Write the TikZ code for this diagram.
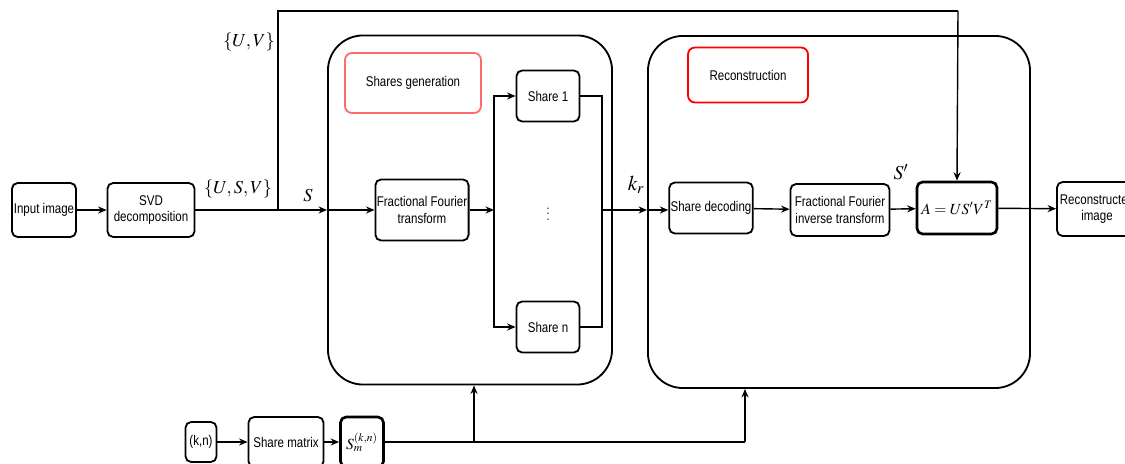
\documentclass[tikz,border=0pt]{standalone}
\usepackage{mathptmx}
\usepackage[no-math]{fontspec}
\setmainfont{Liberation Sans}[FakeStretch=0.82]
\usepackage{tikz}
\usepackage{xcolor}
\usetikzlibrary{shapes, positioning, arrows.meta}

\definecolor{lightred}{HTML}{FF6B6B}

\tikzset{
  block/.style={draw, line width=1.3pt, rounded corners=4pt, align=center,
    inner sep=1pt, font=\fontsize{10}{11.5}\selectfont},
  boldblock/.style={block, line width=1.9pt},
  container/.style={draw, line width=1.3pt, rounded corners=0.875cm},
  title/.style={draw, line width=1.3pt, rounded corners=5pt,
    font=\fontsize{10}{11.5}\selectfont},
  mathlabel/.style={font=\fontsize{13}{15}\selectfont, inner sep=0pt},
  flow/.style={line width=1pt}
}

\begin{document}
\begin{tikzpicture}[x=0.025cm, y=-0.025cm, >={Stealth[length=6pt, width=5pt]}]

        \useasboundingbox (0,0) rectangle (1125,464);
        \clip (0,0) rectangle (1125,464);

        % Draw the two big blocks
        \node[container, minimum width=7.1cm, minimum height=8.725cm] (SharesBlock) at (470,210) {};
        \node[container, minimum width=9.55cm, minimum height=8.8cm] (ReconBlock) at (839,212) {};

        \node[title, draw=lightred, minimum width=3.4cm, minimum height=1.5cm] (SharesTitle) at (413,83) {Shares generation};
        \node[title, draw=red, minimum width=3cm, minimum height=1.375cm] (ReconTitle) at (748,75) {Reconstruction};

        % Decomposition
        \node[block, minimum width=1.6cm, minimum height=1.35cm] (InputImage) at (44,210) {Input image};
        \node[block, minimum width=2.175cm, minimum height=1.35cm] (SVD) at (151,210) {SVD\\decomposition};

        % Shares generation
        \node[block, minimum width=2.3cm, minimum height=1.525cm] (FFT) at (422,210) {Fractional Fourier\\transform};
        \node[block, minimum width=1.575cm, minimum height=1.275cm] (ShareOne) at (548,96) {Share 1};
        \node[block, minimum width=1.575cm, minimum height=1.275cm] (ShareN) at (548,327) {Share n};
        \node[font=\small] (Dots) at (548,210) {$\vdots$};

        % Reconstruction
        \node[block, minimum width=2.05cm, minimum height=1.275cm] (ShareDecoding) at (711,208) {Share decoding};
        \node[block, minimum width=2.475cm, minimum height=1.3cm] (FFInverse) at (840,210) {Fractional Fourier\\inverse transform};
        \node[boldblock, minimum width=2cm, minimum height=1.3cm, font=\fontsize{11}{13}\selectfont] (Formula) at (957,208) {$A = US'V^{T}$};
        \node[block, minimum width=2cm, minimum height=1.35cm] (ReconImage) at (1097,209) {Reconstructed\\image};

        % Share matrix
        \node[block, minimum width=0.775cm, minimum height=1cm] (KN) at (201,442) {(k,n)};
        \node[block, minimum width=1.875cm, minimum height=1.25cm] (ShareMatrix) at (286,442) {Share matrix};
        \node[boldblock, minimum width=1.075cm, minimum height=1.25cm, font=\fontsize{11}{13}\selectfont] (Sm) at (362,442) {$S_m^{(k,n)}$};

        \coordinate (Junction) at (278,210);
        \coordinate (TopRight) at (958,11);
        \coordinate (Split) at (494,210);
        \coordinate (Merge) at (602,210);
        \coordinate (Branch) at (474,442);
        \coordinate (BottomRight) at (745,442);

        \draw[->,flow] (InputImage) -- (SVD);
        \draw[flow] (SVD) -- (Junction);
        \draw[->,flow] (Junction) -- (SharesBlock.west);
        \draw[->,flow] (SharesBlock.west) -- (FFT);
        \draw[flow] (Junction) |- (TopRight);
        \draw[->,flow] (TopRight) -- (Formula.north);

        \node[mathlabel] (USV) at (238,189) {$\{U,S,V\}$};
        \node[mathlabel] (UV) at (249,42) {$\{U,V\}$};
        \node[mathlabel] (SLabel) at (308,196) {$S$};

        \draw[->,flow] (FFT) -- (Split);
        \draw[->,flow] (Split) |- (ShareOne);
        \draw[->,flow] (Split) |- (ShareN);
        \draw[flow] (ShareOne) -| (Merge);
        \draw[flow] (ShareN) -| (Merge);
        \draw[->,flow] (Merge) -- (ReconBlock.west |- Merge);
        \draw[->,flow] (ReconBlock.west |- Merge) -- (ShareDecoding.west |- Merge);

        \node[mathlabel, font=\fontsize{15}{17}\selectfont] (KR) at (636,185) {$k_r$};

        \draw[->,flow] (ShareDecoding) -- (FFInverse);
        \draw[->,flow] (FFInverse) -- (Formula);
        \draw[->,flow] (Formula) -- (ReconImage);

        \node[mathlabel, font=\fontsize{14}{16}\selectfont] (SPrime) at (901,172) {$S'$};

        \draw[->,flow] (KN) -- (ShareMatrix);
        \draw[->,flow] (ShareMatrix) -- (Sm);
        \draw[flow] (Sm) -- (BottomRight);
        \draw[->,flow] (BottomRight) -- (ReconBlock.south -| BottomRight);
        \draw[->,flow] (Branch) -- (SharesBlock.south -| Branch);

      \end{tikzpicture}
\end{document}
